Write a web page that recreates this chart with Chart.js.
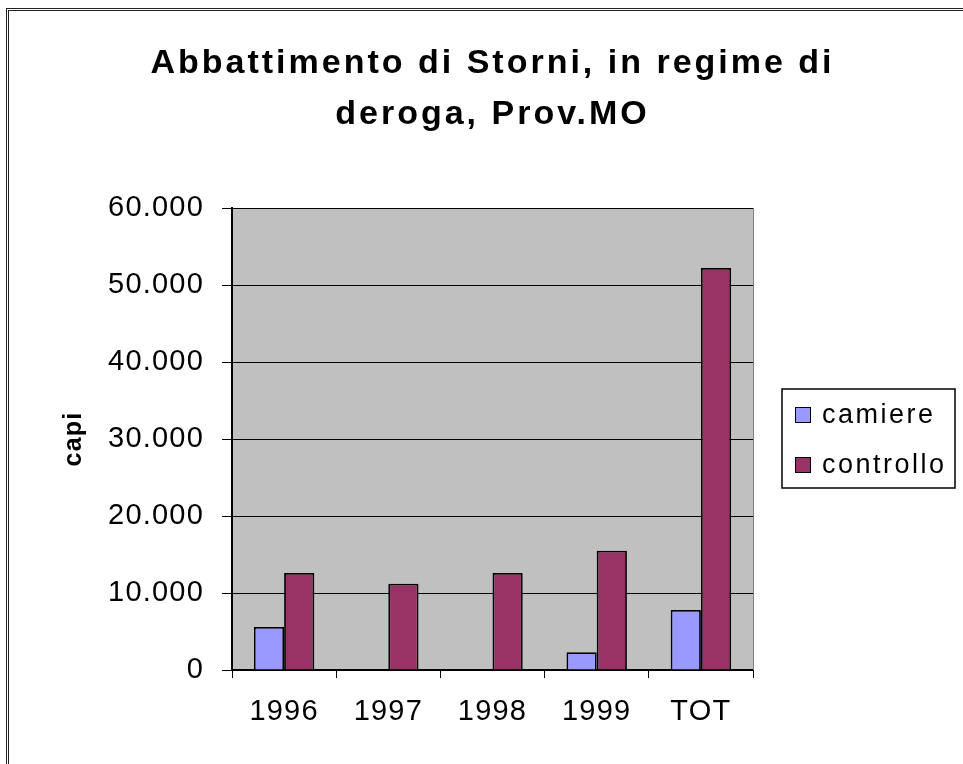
<!DOCTYPE html>
<html lang="it">
<head>
    <meta charset="UTF-8">
    <title>Abbattimento di Storni, in regime di deroga, Prov.MO</title>
    <script src="https://cdn.jsdelivr.net/npm/chart.js"></script>
    <style>
        body { margin: 0; background: #fff; overflow: hidden; }
        #wrap { position: relative; width: 963px; height: 764px; }
        #frame { position: absolute; left: 6px; top: 8px; width: 1000px; height: 1000px;
                 border-top: 3px double #222; border-left: 3px double #222; }
        canvas { position: absolute; left: 0; top: 0; }
    </style>
</head>
<body>
    <div id="wrap">
        <div id="frame"></div>
        <canvas id="chart" width="963" height="764"></canvas>
    </div>

    <script>
        const titleLines = ["Abbattimento di Storni, in regime di", "deroga, Prov.MO"];
        const years = ["1996", "1997", "1998", "1999", "TOT"];
        const camiere = [5600, 0, 0, 2300, 7800];
        const controllo = [12600, 11200, 12600, 15500, 52200];
        const yTicks = [0, 10000, 20000, 30000, 40000, 50000, 60000];

        const FONT = "'Liberation Sans', Arial, sans-serif";

        // thousands with a dot, like the Italian Excel sheet
        function fmt(v) {
            return String(v).replace(/\B(?=(\d{3})+(?!\d))/g, ".");
        }

        const excelLook = {
            id: 'excelLook',
            beforeLayout(chart) {
                chart.ctx.letterSpacing = '1.2px';
            },
            beforeDraw(chart) {
                const ctx = chart.ctx;
                const a = chart.chartArea;
                ctx.letterSpacing = '1.2px';
                ctx.save();
                ctx.fillStyle = '#C0C0C0';
                ctx.fillRect(a.left, a.top, a.right - a.left, a.bottom - a.top);
                ctx.restore();
            },
            afterDraw(chart) {
                const ctx = chart.ctx;
                const a = chart.chartArea;
                ctx.save();

                // plot area right border
                ctx.strokeStyle = '#808080';
                ctx.lineWidth = 1;
                ctx.beginPath();
                ctx.moveTo(a.right + 0.5, a.top);
                ctx.lineTo(a.right + 0.5, a.bottom);
                ctx.stroke();

                // title
                const cx = (a.left + a.right) / 2;
                ctx.fillStyle = '#000';
                ctx.font = "bold 34px " + FONT;
                ctx.letterSpacing = '3px';
                ctx.textAlign = 'center';
                ctx.textBaseline = 'alphabetic';
                ctx.fillText(titleLines[0], cx, 73);
                ctx.fillText(titleLines[1], cx, 124);

                // legend
                const midY = (a.top + a.bottom) / 2;
                const bx = a.right + 29, by = midY - 50, bw = 173, bh = 99;
                ctx.fillStyle = '#fff';
                ctx.fillRect(bx, by, bw, bh);
                ctx.strokeStyle = '#000';
                ctx.lineWidth = 1.5;
                ctx.strokeRect(bx, by, bw, bh);
                ctx.font = "27px " + FONT;
                ctx.letterSpacing = '2.5px';
                ctx.textAlign = 'left';
                ctx.textBaseline = 'middle';
                chart.data.datasets.forEach((ds, i) => {
                    const ry = by + 26 + i * 50;
                    ctx.fillStyle = ds.backgroundColor;
                    ctx.fillRect(bx + 13, ry - 8, 16, 16);
                    ctx.strokeStyle = '#000';
                    ctx.lineWidth = 1;
                    ctx.strokeRect(bx + 13.5, ry - 7.5, 15, 15);
                    ctx.fillStyle = '#000';
                    ctx.fillText(ds.label, bx + 40, ry + 1);
                });
                ctx.restore();
            }
        };

        new Chart(document.getElementById('chart'), {
            type: 'bar',
            data: {
                labels: years,
                datasets: [
                    { label: 'camiere', data: camiere, backgroundColor: '#9999FF',
                      borderColor: '#000', borderWidth: 1.8 },
                    { label: 'controllo', data: controllo, backgroundColor: '#993366',
                      borderColor: '#000', borderWidth: 1.8 }
                ]
            },
            options: {
                responsive: false,
                animation: false,
                events: [],
                layout: { padding: { top: 208, right: 210, left: 0, bottom: 0 } },
                datasets: { bar: { categoryPercentage: 0.58, barPercentage: 1.0 } },
                plugins: {
                    legend: { display: false },
                    title: { display: false },
                    tooltip: { enabled: false }
                },
                scales: {
                    x: {
                        afterFit(scale) { scale.height = 94; },
                        grid: { display: true, drawOnChartArea: false, drawTicks: true,
                                tickLength: 8, color: '#000', offset: true },
                        border: { display: true, color: '#000', width: 2 },
                        ticks: { color: '#000', padding: 17, font: { family: FONT, size: 29 } }
                    },
                    y: {
                        min: 0,
                        max: 60000,
                        afterFit(scale) { scale.width = 232; },
                        afterBuildTicks(scale) { scale.ticks = yTicks.map(v => ({ value: v })); },
                        grid: { color: '#000', lineWidth: 1, drawTicks: true, tickLength: 10 },
                        border: { display: true, color: '#000', width: 2 },
                        ticks: { color: '#000', padding: 18, font: { family: FONT, size: 29 },
                                 callback: v => fmt(v) },
                        title: { display: true, text: 'capi', color: '#000', padding: 59,
                                 font: { family: FONT, size: 25, weight: 'bold' } }
                    }
                }
            },
            plugins: [excelLook]
        });
    </script>
</body>
</html>
